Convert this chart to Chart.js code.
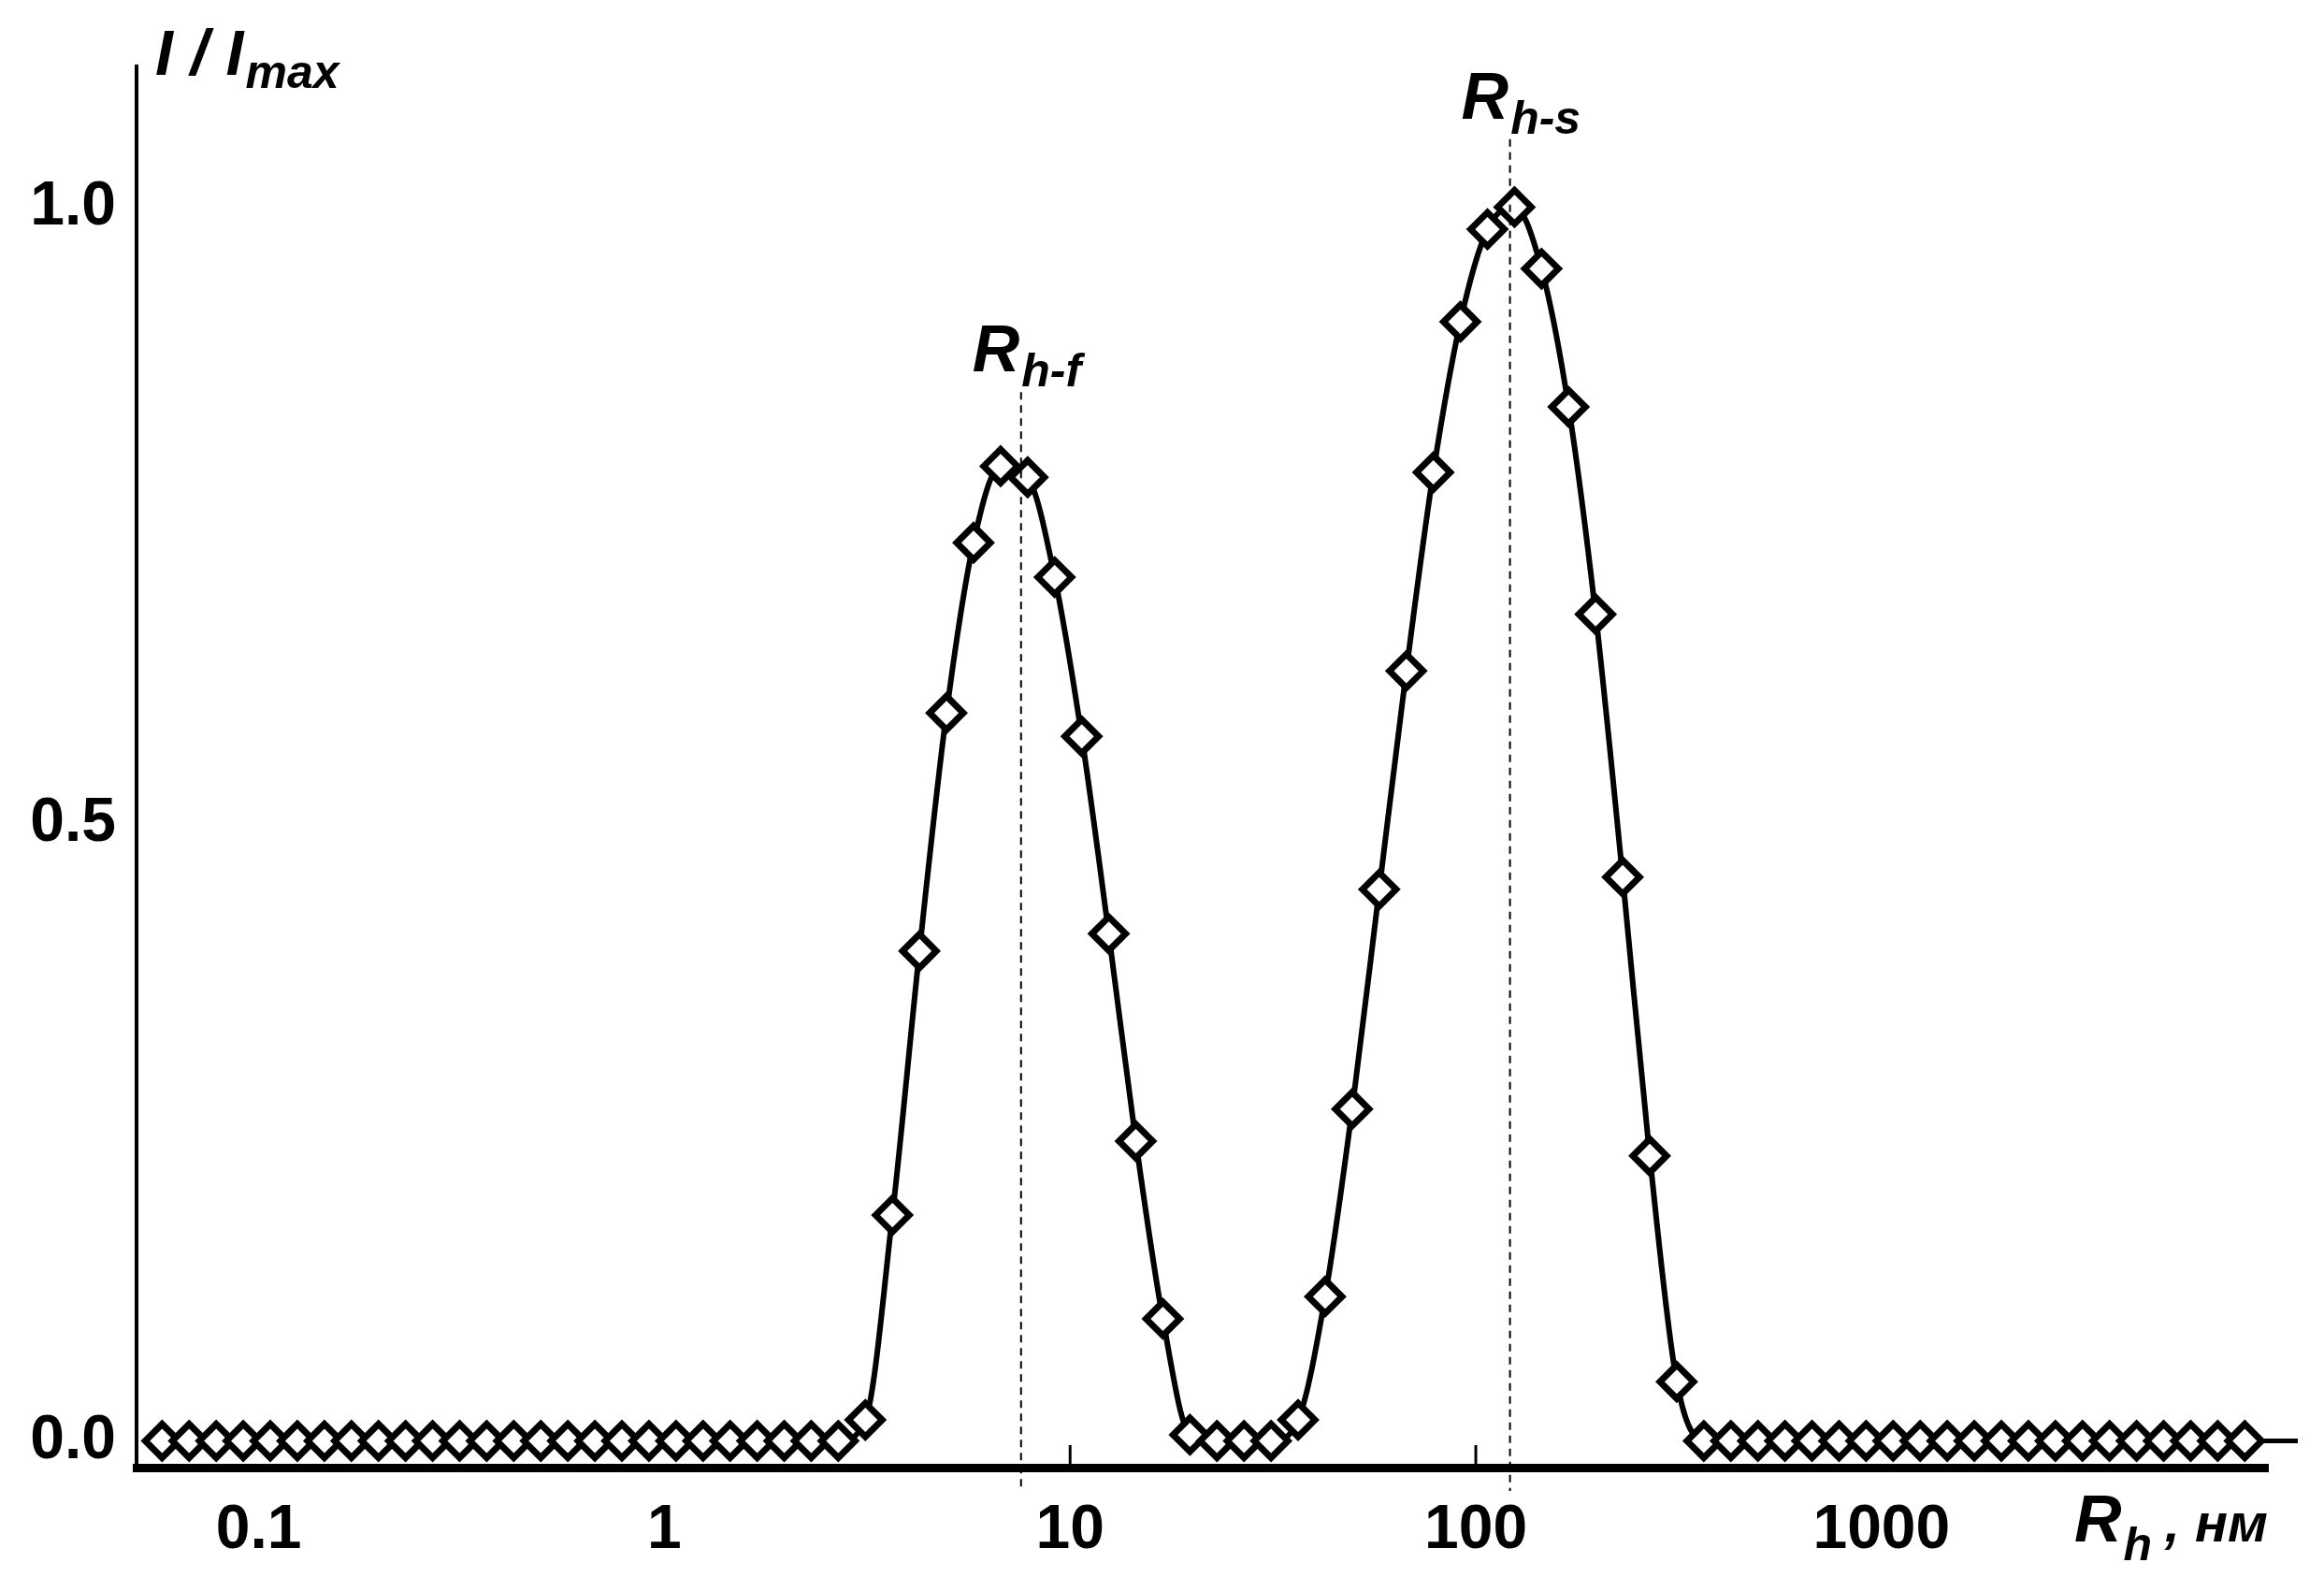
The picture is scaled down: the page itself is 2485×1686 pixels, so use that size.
<!DOCTYPE html>
<html>
<head>
<meta charset="utf-8">
<script src="https://cdn.jsdelivr.net/npm/chart.js@4.4.0/dist/chart.umd.min.js"></script>
<style>
  html, body { margin: 0; padding: 0; background: #fff; }
  canvas { display: block; }
</style>
</head>
<body>
<canvas id="dlsChart" width="2485" height="1686"></canvas>
<script>
// radius grid: 15 points per decade, starting at 10^-1.238
const firstLog = -1.238;
const pointsPerDecade = 15;
const pointCount = 78;

// normalized intensity I / Imax
const peakStart = 26;
const peakValues = [0.017, 0.183, 0.397, 0.59, 0.728, 0.79, 0.781, 0.70, 0.571, 0.411, 0.243, 0.099, 0.005,
    0, 0, 0,
    0.017, 0.117, 0.269, 0.447, 0.624, 0.785, 0.907, 0.982, 1.0, 0.95, 0.838, 0.67, 0.457, 0.231, 0.048];

const xTicks = [0.1, 1, 10, 100, 1000];
const yTicks = [0, 0.5, 1.0];
const markerLines = [
    { x: 7.57, top: 0.85, label: "h-f" },
    { x: 121.4, top: 1.055, label: "h-s" }
];

let points = [];
for (let k = 0; k < pointCount; k++) {
    let v = 0;
    if (k >= peakStart && k < peakStart + peakValues.length) v = peakValues[k - peakStart];
    points.push({ x: Math.pow(10, firstLog + k / pointsPerDecade), y: v });
}

const FONT = '"Liberation Sans", Arial, sans-serif';

const decorPlugin = {
    id: 'decor',
    afterDatasetsDraw(chart) {
        const ctx = chart.ctx;
        const xs = chart.scales.x, ys = chart.scales.y;
        ctx.save();
        // dashed reference lines + labels
        ctx.strokeStyle = '#000';
        ctx.lineWidth = 2;
        ctx.setLineDash([8, 6]);
        markerLines.forEach(m => {
            const px = xs.getPixelForValue(m.x);
            ctx.beginPath();
            ctx.moveTo(px, ys.getPixelForValue(m.top));
            ctx.lineTo(px, chart.chartArea.bottom + 25);
            ctx.stroke();
        });
        ctx.setLineDash([]);
        ctx.fillStyle = '#000';
        markerLines.forEach(m => {
            const px = xs.getPixelForValue(m.x);
            const py = ys.getPixelForValue(m.top) - 22;
            ctx.font = 'italic bold 70px ' + FONT;
            const w = ctx.measureText('R').width;
            ctx.textAlign = 'left';
            ctx.fillText('R', px - 52, py);
            ctx.font = 'italic bold 50px ' + FONT;
            ctx.fillText(m.label, px - 52 + w + 2, py + 16);
        });
        // inner ticks at 10 and 100
        ctx.lineWidth = 3;
        [10, 100].forEach(v => {
            const px = xs.getPixelForValue(v);
            ctx.beginPath();
            ctx.moveTo(px, chart.chartArea.bottom);
            ctx.lineTo(px, chart.chartArea.bottom - 24);
            ctx.stroke();
        });
        // baseline stub on the right
        ctx.lineWidth = 5;
        ctx.beginPath();
        ctx.moveTo(chart.chartArea.right - 10, ys.getPixelForValue(0));
        ctx.lineTo(chart.chartArea.right + 32, ys.getPixelForValue(0));
        ctx.stroke();
        // y axis title: I / Imax
        ctx.textAlign = 'left';
        ctx.font = 'italic bold 68px ' + FONT;
        ctx.fillText('I / I', 166, 80);
        let w1 = ctx.measureText('I / I').width;
        ctx.font = 'italic bold 50px ' + FONT;
        ctx.fillText('max', 166 + w1 + 2, 94);
        // x axis title: Rh , нм
        ctx.font = 'italic bold 70px ' + FONT;
        ctx.fillText('R', 2218, 1648);
        let w2 = ctx.measureText('R').width;
        ctx.font = 'italic bold 50px ' + FONT;
        ctx.fillText('h', 2218 + w2 + 2, 1668);
        ctx.font = 'italic bold 58px ' + FONT;
        ctx.fillText(' , нм', 2218 + w2 + 30, 1648);
        ctx.restore();
    }
};

const myChart = new Chart(document.getElementById('dlsChart'), {
    type: 'line',
    data: {
        datasets: [{
            data: points,
            borderColor: '#000',
            borderWidth: 6,
            tension: 0.4,
            cubicInterpolationMode: 'monotone',
            pointStyle: 'rectRot',
            pointRadius: 18,
            pointBorderWidth: 7,
            pointBackgroundColor: '#fff',
            pointBorderColor: '#000'
        }]
    },
    options: {
        responsive: false,
        animation: false,
        layout: { padding: { left: 0, top: 71, right: 60, bottom: 0 } },
        plugins: { legend: { display: false }, tooltip: { enabled: false } },
        scales: {
            x: {
                type: 'logarithmic',
                min: 0.05,
                max: 8960,
                afterBuildTicks: s => { s.ticks = xTicks.map(v => ({ value: v })); },
                afterFit: s => { s.height = 117; },
                grid: { display: false, drawTicks: false },
                border: { color: '#000', width: 9 },
                ticks: {
                    color: '#000',
                    padding: 28,
                    autoSkip: false,
                    maxRotation: 0,
                    font: { family: FONT, size: 66, weight: 'bold' },
                    callback: v => String(v)
                }
            },
            y: {
                min: -0.0216,
                max: 1.114,
                afterBuildTicks: s => { s.ticks = yTicks.map(v => ({ value: v })); },
                afterFit: s => { s.width = 146; },
                grid: { display: false, drawTicks: false },
                border: { color: '#000', width: 4 },
                ticks: {
                    color: '#000',
                    padding: 22,
                    font: { family: FONT, size: 66, weight: 'bold' },
                    callback: v => v.toFixed(1)
                }
            }
        }
    },
    plugins: [decorPlugin]
});
</script>
</body>
</html>
